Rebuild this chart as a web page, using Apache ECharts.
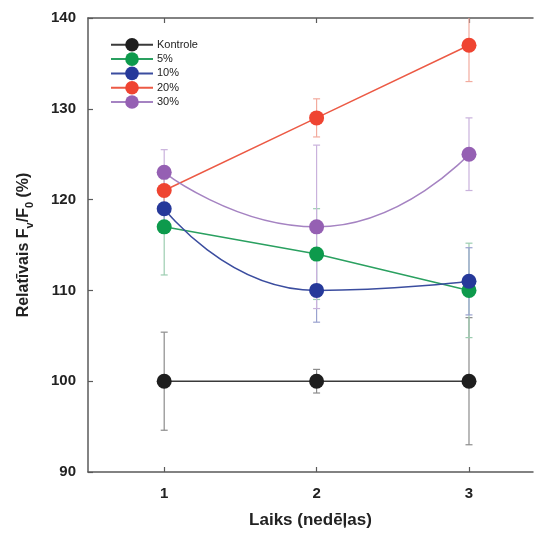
<!DOCTYPE html>
<html>
<head>
<meta charset="utf-8">
<script src="https://cdn.jsdelivr.net/npm/echarts@6/dist/echarts.min.js"></script>
<style>html,body{margin:0;padding:0;background:#fff;}#c{width:535px;height:534px;}</style>
</head>
<body>
<div id="c"></div>
<script>
var weeks = [1, 2, 3];
var seriesNames = ['Kontrole', '5%', '10%', '20%', '30%'];
var kontrole = [100, 100, 100];
var p5 = [117, 114, 110];
var p10 = [119, 110, 111];
var p20 = [121, 129, 137];
var p30 = [123, 117, 125];
var errKontrole = [5.4, 1.3, 7];
var err5 = [5.3, 5, 5.2];
var err10 = [1.5, 3.5, 3.7];
var err20 = [1.5, 2.1, 4];
var err30 = [2.5, 9, 4];
var yTicks = [90, 100, 110, 120, 130, 140];

var values = [kontrole, p5, p10, p20, p30];
var errs = [errKontrole, err5, err10, err20, err30];
var markerColors = ['#1e1e1e', '#0d9a4c', '#26399a', '#ef4431', '#9560b3'];
var lineColors = ['#3a3a3a', '#2aa060', '#3b4d9f', '#ec5a45', '#a583c2'];
var errColors = ['#8c8c8c', '#9ccdb0', '#9aa2cf', '#f2ab9e', '#c9b2dc'];
var smoothFlags = [false, false, 0.55, false, 0.55];

var chart = echarts.init(document.getElementById('c'), null, {renderer: 'canvas'});
var series = [];
values.forEach(function (vals, i) {
  var ed = weeks.map(function (w, j) { return [w, vals[j], errs[i][j]]; });
  series.push({
    type: 'custom',
    name: seriesNames[i] + '_err',
    xAxisIndex: 0, yAxisIndex: 0,
    clip: true,
    z: 1,
    silent: true,
    data: ed,
    encode: {x: 0, y: 1},
    renderItem: function (params, api) {
      var x = api.value(0), y = api.value(1), e = api.value(2);
      var top = api.coord([x, y + e]);
      var bot = api.coord([x, y - e]);
      var c = errColors[i];
      var st = {stroke: c, lineWidth: 1.2};
      return {
        type: 'group',
        children: [
          {type: 'line', shape: {x1: top[0], y1: top[1], x2: bot[0], y2: bot[1]}, style: st},
          {type: 'line', shape: {x1: top[0] - 3.5, y1: top[1], x2: top[0] + 3.5, y2: top[1]}, style: st},
          {type: 'line', shape: {x1: bot[0] - 3.5, y1: bot[1], x2: bot[0] + 3.5, y2: bot[1]}, style: st}
        ]
      };
    }
  });
});
values.forEach(function (vals, i) {
  series.push({
    type: 'line',
    name: seriesNames[i],
    data: weeks.map(function (w, j) { return [w, vals[j]]; }),
    smooth: smoothFlags[i],
    symbol: 'circle',
    symbolSize: 15,
    z: 3 + i,
    itemStyle: {color: markerColors[i]},
    lineStyle: {color: lineColors[i], width: 1.5},
    emphasis: {disabled: true},
    animation: false
  });
});

var axisCol = '#5a5a5a';
chart.setOption({
  animation: false,
  backgroundColor: '#fff',
  grid: {left: 88, right: 2, top: 18, bottom: 58},
  legend: {
    data: seriesNames,
    orient: 'vertical',
    left: 110, top: 38,
    padding: 0,
    itemWidth: 42, itemHeight: 17, itemGap: 0.7,
    textStyle: {fontFamily: 'Liberation Sans, Arial', fontSize: 11, color: '#222', padding: [0, 0, 0, -1]},
    selectedMode: false
  },
  xAxis: [{
    type: 'value', min: 0.5, max: 3.42,
    position: 'bottom',
    name: 'Laiks (nedēļas)',
    nameLocation: 'middle', nameGap: 40,
    nameTextStyle: {fontFamily: 'Liberation Sans, Arial', fontWeight: 'bold', fontSize: 17, color: '#222'},
    axisLine: {show: true, lineStyle: {color: axisCol, width: 1.5}},
    axisTick: {show: true, inside: true, length: 5, customValues: weeks, lineStyle: {color: axisCol, width: 1.2}},
    axisLabel: {customValues: weeks, margin: 14, fontFamily: 'Liberation Sans, Arial', fontWeight: 'bold', fontSize: 15, color: '#222'},
    splitLine: {show: false}
  }, {
    type: 'value', min: 0.5, max: 3.42,
    position: 'top',
    axisLine: {show: true, lineStyle: {color: axisCol, width: 1.5}},
    axisTick: {show: true, inside: true, length: 5, customValues: weeks, lineStyle: {color: axisCol, width: 1.2}},
    axisLabel: {show: false},
    splitLine: {show: false}
  }],
  yAxis: {
    type: 'value', min: yTicks[0], max: yTicks[yTicks.length - 1], interval: 10,
    name: '{m|Relatīvais F}{s|v}{m|/F}{s|0}{m| (%)}',
    nameLocation: 'middle', nameGap: 54,
    nameRotate: 90,
    nameTextStyle: {
      fontFamily: 'Liberation Sans, Arial', fontWeight: 'bold', fontSize: 16, color: '#222',
      rich: {
        m: {fontFamily: 'Liberation Sans, Arial', fontWeight: 'bold', fontSize: 16, color: '#222', lineHeight: 18, verticalAlign: 'top'},
        s: {fontFamily: 'Liberation Sans, Arial', fontWeight: 'bold', fontSize: 11, color: '#222', lineHeight: 12, verticalAlign: 'top', padding: [8, 0, 0, 0]}
      }
    },
    axisLine: {show: true, lineStyle: {color: axisCol, width: 1.5}},
    axisTick: {show: true, inside: true, length: 5, lineStyle: {color: axisCol, width: 1.2}},
    axisLabel: {margin: 12, fontFamily: 'Liberation Sans, Arial', fontWeight: 'bold', fontSize: 15, color: '#222'},
    splitLine: {show: false}
  },
  series: series
});
</script>
</body>
</html>
